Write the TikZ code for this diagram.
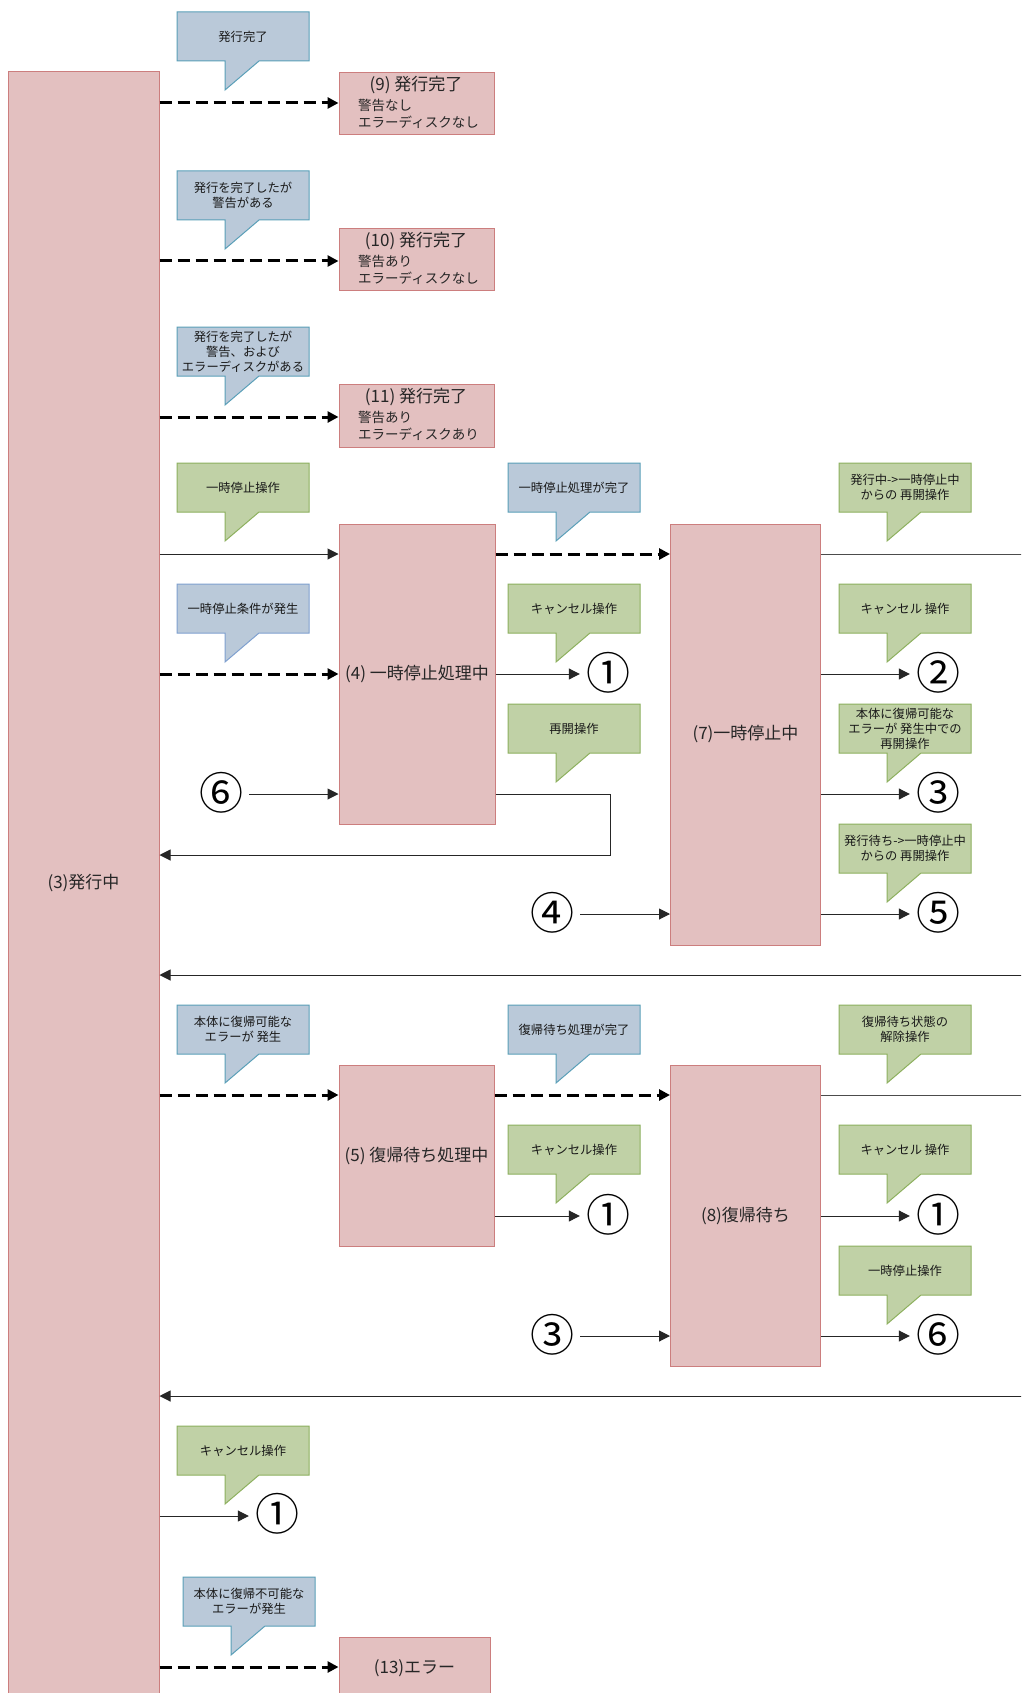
\documentclass[tikz,border=0pt]{standalone}
\usepackage{fontspec}
\setmainfont{Noto Sans CJK JP}
\usetikzlibrary{arrows.meta}
\definecolor{pinkfill}{HTML}{E3C0C0}
\definecolor{pinkline}{HTML}{CC7E7E}
\definecolor{bluefill}{HTML}{BAC9D9}
\definecolor{blueline}{HTML}{5A9FB8}
\definecolor{blueline2}{HTML}{7FA0CF}
\definecolor{greenfill}{HTML}{C0D1A6}
\definecolor{greenline}{HTML}{8DB05E}
\tikzset{
  statebox/.style={draw=pinkline, fill=pinkfill, line width=1pt, inner sep=0pt, text=black!85},
  boxfont/.style={font=\fontsize{17}{20}\selectfont},
  bodyfont/.style={font=\fontsize{13.5}{17}\selectfont},
  ctext/.style={font=\fontsize{12.3}{15}\selectfont, align=center, inner sep=0pt, text=black!90},
  bluecall/.style={draw=blueline, fill=bluefill, line width=1pt},
  bluecall2/.style={draw=blueline2, fill=bluefill, line width=1pt},
  greencall/.style={draw=greenline, fill=greenfill, line width=1pt},
  circnum/.style={font=\fontsize{44}{44}\selectfont, minimum width=56pt, inner sep=0pt},
  arr/.style={draw=black!85, line width=1pt, -{Triangle[length=11pt,width=11pt]}},
  plainline/.style={draw=black!70, line width=1pt},
  dasharr/.style={draw=black, line width=3pt, dash pattern=on 12pt off 6pt, -{Triangle[length=11pt,width=11pt]}},
}
\newcommand{\cbox}[6]{%
  \draw[#1] (#2,#3) -- ++(#4,0) -- ++(0,49) -- (#2+82,#3+49) -- (#2+48,#3+78) -- (#2+48,#3+49) -- (#2,#3+49) -- cycle;
  \node[ctext] (#5) at (#2+#4/2,#3+24.5) {#6};}
\begin{document}
\begin{tikzpicture}[x=1pt,y=-1pt]
\clip (0,0) rectangle (1021,1693);
\fill[white] (0,0) rectangle (1021,1693);

% state boxes
\node[statebox, minimum width=151pt, minimum height=1622pt, boxfont] (b3) at (83.5,883) {(3)発行中};
\node[statebox, minimum width=155pt, minimum height=62pt] (b9) at (416.5,104) {};
\node[statebox, minimum width=155pt, minimum height=62pt] (b10) at (416.5,260) {};
\node[statebox, minimum width=155pt, minimum height=63pt] (b11) at (416.5,415.5) {};
\node[statebox, minimum width=156pt, minimum height=300pt, boxfont] (b4) at (417,674) {(4) 一時停止処理中};
\node[statebox, minimum width=150pt, minimum height=421pt, boxfont] (b7) at (745.5,734.5) {(7)一時停止中};
\node[statebox, minimum width=155pt, minimum height=181pt, boxfont] (b5) at (416.5,1155.5) {(5) 復帰待ち処理中};
\node[statebox, minimum width=150pt, minimum height=301pt, boxfont] (b8) at (745.5,1215.5) {(8)復帰待ち};
\node[statebox, minimum width=151pt, minimum height=62pt, boxfont] (b13) at (414.5,1668) {(13)エラー};

% texts of the completion boxes
\node[boxfont, inner sep=0pt, text=black!85] (t9) at (416,85) {(9) 発行完了};
\node[bodyfont, inner sep=0pt, anchor=west, align=left, text=black!85] (u9) at (358,114) {警告なし\\エラーディスクなし};
\node[boxfont, inner sep=0pt, text=black!85] (t10) at (416,241) {(10) 発行完了};
\node[bodyfont, inner sep=0pt, anchor=west, align=left, text=black!85] (u10) at (358,270) {警告あり\\エラーディスクなし};
\node[boxfont, inner sep=0pt, text=black!85] (t11) at (416,397) {(11) 発行完了};
\node[bodyfont, inner sep=0pt, anchor=west, align=left, text=black!85] (u11) at (358,426) {警告あり\\エラーディスクあり};

% circled numbers
\node[circnum] (c6a) at (221,793) {⑥};
\node[circnum] (c1a) at (608,673) {①};
\node[circnum] (c2) at (938,673) {②};
\node[circnum] (c3a) at (938,793) {③};
\node[circnum] (c4) at (552,913) {④};
\node[circnum] (c5) at (938,913) {⑤};
\node[circnum] (c1b) at (608,1215) {①};
\node[circnum] (c1c) at (938,1215) {①};
\node[circnum] (c3b) at (552,1335) {③};
\node[circnum] (c6b) at (938,1335) {⑥};
\node[circnum] (c1d) at (277,1514) {①};

% callouts
\cbox{bluecall}{177}{12}{132}{k1}{発行完了}
\cbox{bluecall}{177}{171}{132}{k2}{発行を完了したが\\警告がある}
\cbox{bluecall}{177}{327}{132}{k3}{発行を完了したが\\警告、および\\エラーディスクがある}
\cbox{greencall}{177}{463}{132}{k4}{一時停止操作}
\cbox{bluecall2}{177}{584}{132}{k5}{一時停止条件が発生}
\cbox{bluecall}{508}{463}{132}{k6}{一時停止処理が完了}
\cbox{greencall}{508}{584}{132}{k7}{キャンセル操作}
\cbox{greencall}{508}{704}{132}{k8}{再開操作}
\cbox{greencall}{839}{463}{132}{k9}{発行中->一時停止中\\からの 再開操作}
\cbox{greencall}{839}{584}{132}{k10}{キャンセル 操作}
\cbox{greencall}{839}{704}{132}{k11}{本体に復帰可能な\\エラーが 発生中での\\再開操作}
\cbox{greencall}{839}{824}{132}{k12}{発行待ち->一時停止中\\からの 再開操作}
\cbox{bluecall}{177}{1005}{132}{k13}{本体に復帰可能な\\エラーが 発生}
\cbox{bluecall}{508}{1005}{132}{k14}{復帰待ち処理が完了}
\cbox{greencall}{839}{1005}{132}{k15}{復帰待ち状態の\\解除操作}
\cbox{greencall}{508}{1125}{132}{k16}{キャンセル操作}
\cbox{greencall}{839}{1125}{132}{k17}{キャンセル 操作}
\cbox{greencall}{839}{1246}{132}{k18}{一時停止操作}
\cbox{greencall}{177}{1426}{132}{k19}{キャンセル操作}
\cbox{bluecall}{183}{1577}{132}{k20}{本体に復帰不可能な\\エラーが発生}

% level coordinates
\coordinate (y554) at (0,554);
\coordinate (y794) at (0,794);
\coordinate (y914) at (0,914);
\coordinate (y1095) at (0,1095);
\coordinate (y1216) at (0,1216);
\coordinate (y1336) at (0,1336);
\coordinate (bend) at (610,855);
\coordinate (r554) at (1030,554);
\coordinate (r975) at (1030,975);
\coordinate (r1095) at (1030,1095);
\coordinate (r1396) at (1030,1396);

% connectors
\draw[dasharr] (b3.east |- 0,103) -- (b9.west |- 0,103);
\draw[dasharr] (b3.east |- 0,261) -- (b10.west |- 0,261);
\draw[dasharr] (b3.east |- 0,417) -- (b11.west |- 0,417);
\draw[arr] (b3.east |- y554) -- (b4.west |- y554);
\draw[dasharr] (b3.east |- b4.west) -- (b4.west);
\draw[arr] (c6a.east |- y794) -- (b4.west |- y794);
\draw[arr] (b4.east) -- (c1a.west |- b4.east);
\draw[arr] (b4.east |- y794) -| (bend) -- (b3.east |- bend);
\draw[dasharr] (b4.east |- y554) -- (b7.west |- y554);
\draw[plainline] (b7.east |- y554) -- (r554);
\draw[arr] (b7.east |- b4.east) -- (c2.west |- b4.east);
\draw[arr] (b7.east |- y794) -- (c3a.west |- y794);
\draw[arr] (c4.east |- y914) -- (b7.west |- y914);
\draw[arr] (b7.east |- y914) -- (c5.west |- y914);
\draw[arr] (r975) -- (b3.east |- r975);
\draw[dasharr] (b3.east |- y1095) -- (b5.west |- y1095);
\draw[dasharr] (b5.east |- y1095) -- (b8.west |- y1095);
\draw[plainline] (b8.east |- y1095) -- (r1095);
\draw[arr] (b5.east |- y1216) -- (c1b.west |- y1216);
\draw[arr] (b8.east |- y1216) -- (c1c.west |- y1216);
\draw[arr] (c3b.east |- y1336) -- (b8.west |- y1336);
\draw[arr] (b8.east |- y1336) -- (c6b.west |- y1336);
\draw[arr] (r1396) -- (b3.east |- r1396);
\draw[arr] (b3.east |- 0,1516) -- (c1d.west |- 0,1516);
\draw[dasharr] (b3.east |- 0,1667) -- (b13.west |- 0,1667);
\end{tikzpicture}
\end{document}
